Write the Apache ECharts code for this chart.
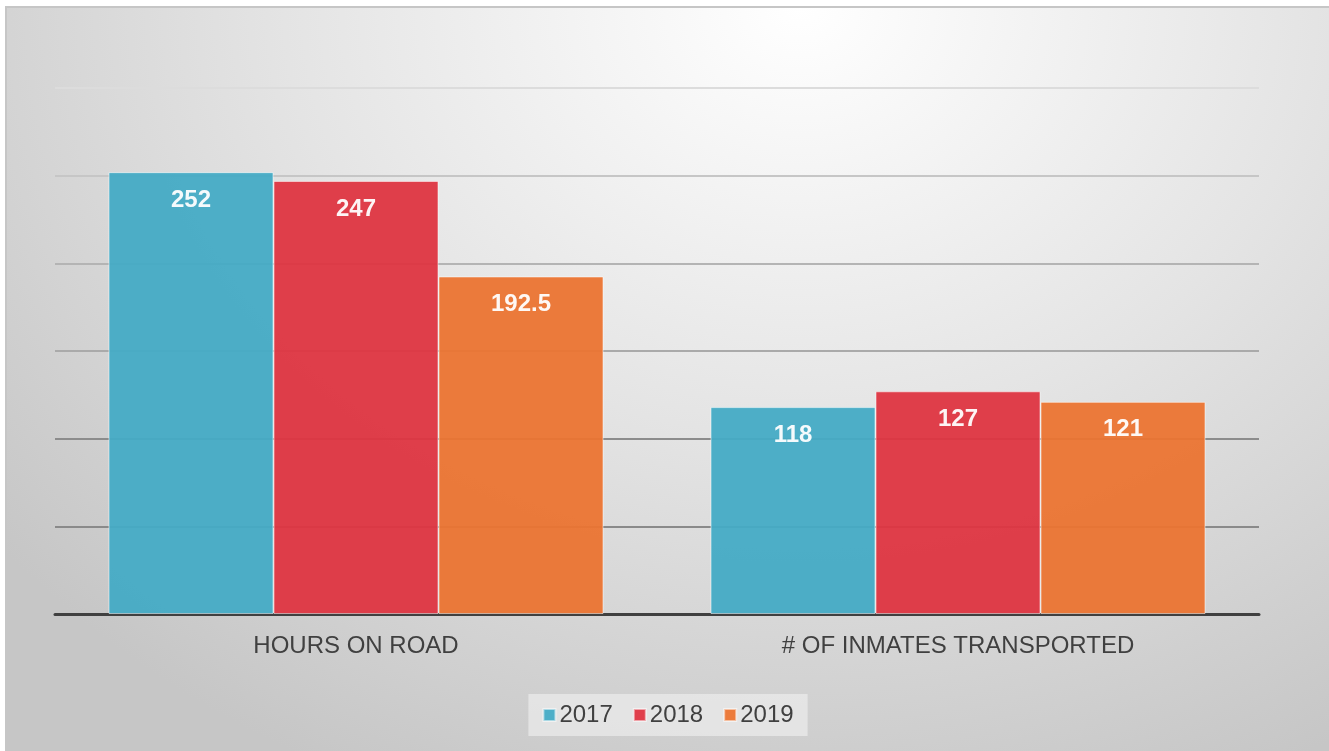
<!DOCTYPE html>
<html>
<head>
<meta charset="utf-8">
<title>Transport chart</title>
<script src="https://cdn.jsdelivr.net/npm/echarts@6/dist/echarts.min.js"></script>
<style>
  html, body { margin: 0; padding: 0; background: #fff; }
  #chart {
    position: absolute;
    left: 5px;
    top: 6px;
    width: 1324px;
    height: 745px;
    box-sizing: border-box;
    border-top: 2px solid #c6c6c6;
    border-left: 2px solid #c6c6c6;
    background: radial-gradient(ellipse 78% 115% at 60% 0%, #ffffff 0%, #e4e4e4 50%, #c6c6c6 100%);
  }
</style>
</head>
<body>
<div id="chart"></div>
<script>
// data
const categories = ["HOURS ON ROAD", "# OF INMATES TRANSPORTED"];
const years = ["2017", "2018", "2019"];
const values2017 = [252, 118];
const values2018 = [247, 127];
const values2019 = [192.5, 121];
const colors = ["#45abc5", "#de3541", "#eb7431"];

const font = "'Liberation Sans', Arial, sans-serif";

function makeSeries(name, data, color) {
  return {
    name: name,
    type: "bar",
    data: data,
    barWidth: 165,
    barGap: "0%",
    itemStyle: {
      color: color,
      opacity: 0.95,
      borderColor: "rgba(255,255,255,0.55)",
      borderWidth: 1
    },
    label: {
      show: true,
      position: "insideTop",
      distance: 16,
      color: "#fff",
      fontSize: 24,
      fontWeight: "bold",
      fontFamily: font
    }
  };
}

let chart = echarts.init(document.getElementById("chart"));
chart.setOption({
  backgroundColor: "transparent",
  animation: false,
  color: colors,
  grid: { left: 48, right: 70, top: 80, bottom: 137 },
  legend: {
    data: years,
    left: "center",
    top: 686,
    icon: "rect",
    itemWidth: 12,
    itemHeight: 12,
    itemGap: 20,
    padding: [9, 14],
    backgroundColor: "rgba(236,236,236,0.7)",
    textStyle: { color: "#404040", fontSize: 24, fontFamily: font, padding: [0, 0, 0, -1] }
  },
  xAxis: {
    type: "category",
    data: categories,
    axisTick: { show: false },
    axisLine: { lineStyle: { color: "#404040", width: 3 } },
    axisLabel: { color: "#404040", fontSize: 24, fontFamily: font, margin: 20 }
  },
  yAxis: {
    type: "value",
    min: 0,
    max: 300,
    interval: 50,
    axisLabel: { show: false },
    axisLine: { show: false },
    axisTick: { show: false },
    splitLine: {
      lineStyle: {
        width: 2,
        color: ["#888", "#8a8a8a", "#8c8c8c", "#aaaaaa", "#b4b4b4", "#c6c6c6", "#dcdcdc"]
      }
    }
  },
  series: [
    makeSeries(years[0], values2017, colors[0]),
    makeSeries(years[1], values2018, colors[1]),
    makeSeries(years[2], values2019, colors[2])
  ]
});
</script>
</body>
</html>
